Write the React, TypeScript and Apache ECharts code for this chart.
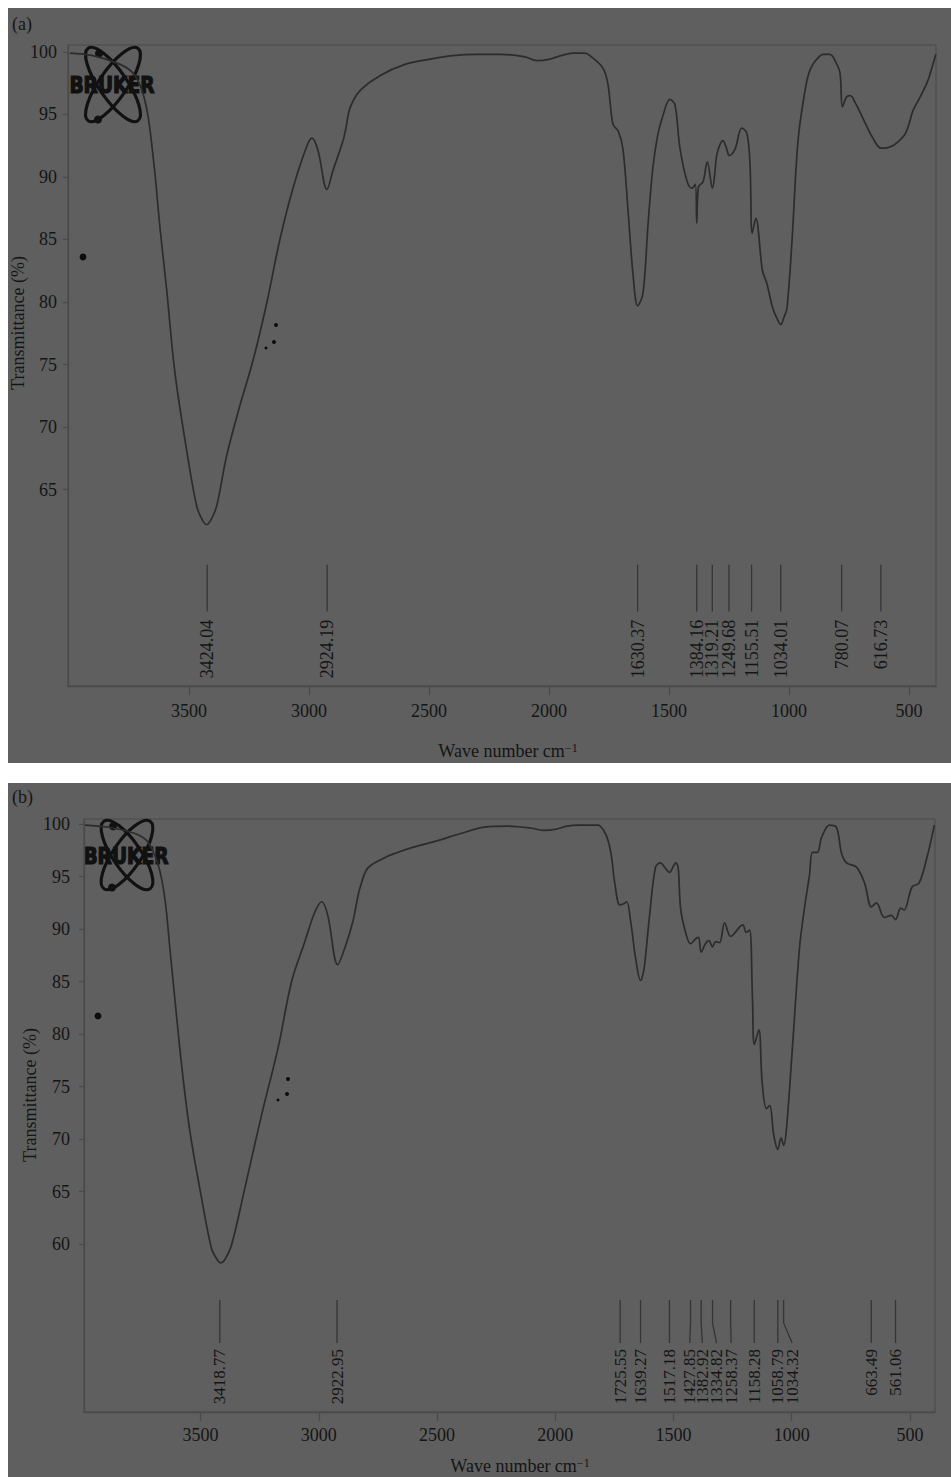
import React, { useEffect, useRef } from "react";
import * as echarts from "echarts";

// ---------- data ----------
// Panel (a): wavenumber (cm-1) and transmittance (%)
const A_WN = [
  3996, 3900, 3787, 3733, 3697, 3670, 3642, 3621, 3593, 3558, 3510, 3468, 3445, 3426, 3405, 3383,
  3343, 3288, 3232, 3176, 3121, 3065, 3010, 2987, 2962, 2925, 2900, 2858, 2846, 2829, 2787, 2704, 2600,
  2500, 2400, 2300, 2200, 2100, 2050, 2000, 1950, 1900, 1850, 1829, 1775, 1754, 1733, 1712, 1692,
  1671, 1650, 1630, 1608, 1587, 1567, 1546, 1525, 1496, 1475, 1454, 1425, 1404, 1390, 1384, 1377,
  1358, 1340, 1319, 1300, 1287, 1275, 1262, 1248, 1225, 1196, 1175, 1162, 1153, 1138, 1110, 1092,
  1067, 1045, 1034, 1020, 1008, 987, 962, 933, 917, 900, 875, 858, 829, 805, 787, 777, 760, 745,
  720, 692, 650, 616, 600, 580, 558, 517, 500, 483, 450, 421, 400, 388,
];
const A_T = [
  99.9, 99.7, 99.0, 98.3, 97.0, 94.8, 90.3, 86.0, 81.0, 74.3, 68.2, 63.7, 62.6, 62.2, 62.7, 63.8,
  67.7, 71.7, 75.4, 79.9, 85.0, 89.2, 92.4, 93.1, 92.1, 89.0, 90.5, 92.9, 93.9, 95.5, 96.9, 98.1, 99.0,
  99.4, 99.7, 99.8, 99.8, 99.6, 99.3, 99.4, 99.7, 99.9, 99.9, 99.7, 98.7, 97.4, 94.2, 93.7, 92.3,
  87.5, 82.3, 79.7, 80.7, 86.2, 90.7, 93.4, 94.9, 96.2, 95.8, 92.3, 89.7, 89.1, 89.4, 86.3, 89.2,
  89.6, 91.2, 89.1, 91.8, 92.6, 92.9, 92.4, 91.7, 92.2, 93.9, 93.5, 91.0, 85.5, 86.7, 82.5, 81.5,
  79.5, 78.5, 78.2, 78.8, 79.5, 84.9, 92.9, 96.9, 98.3, 99.0, 99.6, 99.8, 99.8, 99.2, 98.3, 95.6,
  96.4, 96.5, 95.8, 94.7, 93.1, 92.3, 92.3, 92.4, 92.6, 93.4, 94.2, 95.3, 96.5, 97.7, 99.0, 99.8,
];

// Panel (b)
const B_WN = [
  3989, 3892, 3778, 3723, 3679, 3651, 3630, 3609, 3580, 3545, 3496, 3454, 3432, 3415, 3395, 3369,
  3313, 3242, 3172, 3115, 3059, 3017, 2987, 2962, 2920, 2890, 2856, 2839, 2826, 2793, 2721, 2679,
  2600, 2500, 2400, 2300, 2200, 2100, 2050, 2000, 1950, 1900, 1863, 1820, 1786, 1765, 1749, 1727,
  1710, 1698, 1681, 1660, 1639, 1630, 1622, 1601, 1576, 1555, 1538, 1517, 1500, 1490, 1480, 1470,
  1449, 1428, 1405, 1394, 1383, 1365, 1350, 1335, 1322, 1305, 1284, 1258, 1207, 1193, 1178, 1166,
  1158, 1139, 1125, 1107, 1093, 1076, 1059, 1045, 1034, 1022, 997, 967, 946, 925, 912, 891, 874,
  840, 811, 789, 768, 726, 692, 663, 642, 608, 579, 561, 539, 525, 491, 461, 427, 397,
];
const B_T = [
  99.9, 99.7, 99.1, 98.3, 96.1, 92.9, 88.2, 83.4, 77.0, 70.7, 64.4, 59.6, 58.6, 58.2, 58.6, 59.9,
  65.3, 72.3, 78.7, 85.0, 88.8, 91.6, 92.6, 91.3, 86.6, 88.2, 90.7, 92.6, 93.9, 95.8, 96.8, 97.2,
  97.8, 98.4, 99.1, 99.7, 99.8, 99.6, 99.4, 99.5, 99.8, 99.9, 99.9, 99.9, 99.0, 97.3, 94.5, 92.3,
  92.4, 92.6, 90.7, 87.2, 85.1, 85.6, 86.6, 91.3, 95.9, 96.3, 95.9, 95.4, 96.0, 96.3, 95.8, 92.0,
  89.7, 88.6, 89.1, 89.2, 87.8, 88.6, 88.9, 88.3, 88.8, 88.7, 90.6, 89.3, 90.4, 89.7, 89.9, 83.4,
  79.0, 80.4, 75.4, 72.9, 73.2, 70.4, 69.0, 70.1, 69.4, 71.0, 78.7, 88.2, 92.0, 95.1, 97.3, 97.3, 98.7,
  99.9, 99.7, 97.2, 96.3, 95.9, 94.4, 92.1, 92.5, 91.1, 91.3, 90.9, 92.0, 91.8, 94.0, 94.4, 96.9, 99.9,
];

// Peak annotations
const A_PEAKS = [3424.04, 2924.19, 1630.37, 1384.16, 1319.21, 1249.68, 1155.51, 1034.01, 780.07, 616.73];
const B_PEAKS = [
  3418.77, 2922.95, 1725.55, 1639.27, 1517.18, 1427.85, 1382.92, 1334.82, 1258.37, 1158.28, 1058.79,
  1034.32, 663.49, 561.06,
];
// where each (b) label sits along the axis (labels spread apart where crowded)
const B_LABEL_AT = [
  3418.77, 2922.95, 1725.55, 1639.27, 1517.18, 1431, 1378, 1318, 1256, 1158.28, 1058.79, 998,
  663.49, 561.06,
];

const X_TICKS = [3500, 3000, 2500, 2000, 1500, 1000, 500];
const A_Y_TICKS = [65, 70, 75, 80, 85, 90, 95, 100];
const B_Y_TICKS = [60, 65, 70, 75, 80, 85, 90, 95, 100];

// ---------- styles ----------
const FONT = '"Liberation Serif", "Times New Roman", serif';
const INK = "#151515";
const CURVE = "#2c2c2c";
const AXIS = "#4a4a4a";
const PANEL = "#5f5f5f";
const W = 951;
const H = 1477;

const pair = (xs: number[], ys: number[]) => xs.map((x, i) => [x, ys[i]]);
const plain = (v: number) => String(v);

function xAxis(gridIndex: number, min: number, max: number, margin: number) {
  return {
    type: "value",
    gridIndex,
    inverse: true,
    min,
    max,
    axisLine: { show: true, onZero: false, lineStyle: { color: AXIS, width: 1.4 } },
    axisTick: { show: true, length: 9, customValues: X_TICKS, lineStyle: { color: AXIS, width: 1.2 } },
    axisLabel: { customValues: X_TICKS, margin, color: INK, fontFamily: FONT, fontSize: 18, formatter: plain },
    splitLine: { show: false },
  };
}

function yAxis(gridIndex: number, min: number, max: number, ticks: number[], margin: number) {
  return {
    type: "value",
    gridIndex,
    min,
    max,
    axisLine: { show: true, onZero: false, lineStyle: { color: AXIS, width: 1.4 } },
    axisTick: { show: true, length: 5, customValues: ticks, lineStyle: { color: AXIS, width: 1.2 } },
    axisLabel: { customValues: ticks, margin, color: INK, fontFamily: FONT, fontSize: 18, formatter: plain },
    splitLine: { show: false },
  };
}

function peakSeries(
  idx: number,
  peaks: number[],
  labelAt: number[],
  cfg: { top: number; bend: number; bottom: number; text: number; size: number }
) {
  return {
    type: "custom",
    xAxisIndex: idx,
    yAxisIndex: idx,
    silent: true,
    clip: false,
    data: peaks.map((p, i) => [p, labelAt[i]]),
    renderItem: (params: any, api: any) => {
      const px = api.value(0);
      const lx = api.value(1);
      const [x0, yTop] = api.coord([px, cfg.top]);
      const [, yBend] = api.coord([px, cfg.bend]);
      const [x1, yBot] = api.coord([lx, cfg.bottom]);
      const [, yText] = api.coord([lx, cfg.text]);
      return {
        type: "group",
        children: [
          {
            type: "polyline",
            shape: { points: [[x0, yTop], [x0, yBend], [x1, yBot]] },
            style: { stroke: "#353535", lineWidth: 1.3, fill: null },
          },
          {
            type: "text",
            x: x1,
            y: yText,
            rotation: Math.PI / 2,
            style: {
              text: peaks[params.dataIndex].toFixed(2),
              fill: INK,
              fontFamily: FONT,
              fontSize: cfg.size,
              align: "right",
              verticalAlign: "middle",
            },
          },
        ],
      };
    },
  };
}

function logo(cx: number, cy: number, sy: number) {
  const ring = { stroke: "#111", lineWidth: 3.2, fill: null };
  return {
    type: "group",
    x: cx,
    y: cy,
    children: [
      { type: "ellipse", scaleY: sy, shape: { cx: 0, cy: 0, rx: 14, ry: 44 }, rotation: 0.6, style: ring },
      { type: "ellipse", scaleY: sy, shape: { cx: 0, cy: 0, rx: 14, ry: 44 }, rotation: -0.6, style: ring },
      { type: "circle", shape: { cx: -14, cy: -31 * sy, r: 4 }, style: { fill: "#111" } },
      { type: "circle", shape: { cx: -15, cy: 35 * sy, r: 4 }, style: { fill: "#111" } },
      {
        type: "text",
        x: -1,
        y: 1,
        scaleX: 0.9,
        style: {
          text: "BRUKER",
          fill: "#111",
          stroke: "#111",
          lineWidth: 1.2,
          fontFamily: '"DejaVu Sans Condensed", "DejaVu Sans", sans-serif',
          fontWeight: "bold",
          fontSize: 23,
          align: "center",
          verticalAlign: "middle",
        },
      },
    ],
  };
}

function xTitle(x: number, y: number) {
  return {
    type: "text",
    x,
    y,
    style: {
      text: "{n|Wave number cm}{s|−1}",
      align: "center",
      verticalAlign: "middle",
      rich: {
        n: { fontFamily: FONT, fontSize: 18, fill: INK, lineHeight: 18 },
        s: { fontFamily: FONT, fontSize: 12, fill: INK, verticalAlign: "top", lineHeight: 18, padding: [0, 0, 8, 0] },
      },
    },
  };
}

function yTitle(x: number, y: number) {
  return {
    type: "text",
    x,
    y,
    rotation: Math.PI / 2,
    style: {
      text: "Transmittance (%)",
      fill: INK,
      fontFamily: FONT,
      fontSize: 18,
      align: "center",
      verticalAlign: "middle",
    },
  };
}

function dot(x: number, y: number, r: number) {
  return { type: "circle", shape: { cx: x, cy: y, r }, style: { fill: "#0d0d0d" } };
}

export default function App() {
  const ref = useRef<HTMLDivElement>(null);

  useEffect(() => {
    if (!ref.current) return;
    const chart = echarts.init(ref.current, undefined, { renderer: "svg", width: W, height: H });
    chart.setOption({
      animation: false,
      backgroundColor: "transparent",
      grid: [
        { left: 68, top: 45, width: 868, height: 641, show: true, borderColor: AXIS, borderWidth: 1, backgroundColor: "transparent" },
        { left: 84, top: 819, width: 851, height: 593, show: true, borderColor: AXIS, borderWidth: 1, backgroundColor: "transparent" },
      ],
      xAxis: [xAxis(0, 387, 4004, 16), xAxis(1, 394, 3993, 14)],
      yAxis: [yAxis(0, 49.3, 100.55, A_Y_TICKS, 11), yAxis(1, 44.0, 100.48, B_Y_TICKS, 14)],
      series: [
        {
          type: "line",
          xAxisIndex: 0,
          yAxisIndex: 0,
          data: pair(A_WN, A_T),
          showSymbol: false,
          smooth: 0.35,
          silent: true,
          lineStyle: { color: CURVE, width: 1.7 },
        },
        {
          type: "line",
          xAxisIndex: 1,
          yAxisIndex: 1,
          data: pair(B_WN, B_T),
          showSymbol: false,
          smooth: 0.35,
          silent: true,
          lineStyle: { color: CURVE, width: 1.7 },
        },
        peakSeries(0, A_PEAKS, A_PEAKS, { top: 59.0, bend: 55.25, bottom: 55.25, text: 54.6, size: 18 }),
        peakSeries(1, B_PEAKS, B_LABEL_AT, { top: 54.67, bend: 52.48, bottom: 50.57, text: 50.0, size: 17 }),
      ],
      graphic: [
        { type: "text", x: 12, y: 24, style: { text: "(a)", fill: INK, fontFamily: FONT, fontSize: 18, verticalAlign: "middle" } },
        { type: "text", x: 12, y: 797, style: { text: "(b)", fill: INK, fontFamily: FONT, fontSize: 18, verticalAlign: "middle" } },
        yTitle(18, 323),
        yTitle(30, 1095),
        xTitle(508, 751),
        xTitle(520, 1466),
        logo(113, 84.5, 1),
        logo(127, 855, 0.93),
        dot(83, 257, 3.4),
        dot(276, 325, 2),
        dot(274, 342, 2),
        dot(266, 348, 1.5),
        dot(98, 1016, 3.4),
        dot(288, 1079, 2),
        dot(287, 1094, 2),
        dot(278, 1100, 1.5),
      ],
    });
    return () => chart.dispose();
  }, []);

  return (
    <div style={{ position: "absolute", left: 0, top: 0, width: W, height: H, background: "#ffffff", overflow: "hidden" }}>
      <div style={{ position: "absolute", left: 8, top: 8, width: W - 8, height: 755, background: PANEL }} />
      <div style={{ position: "absolute", left: 8, top: 783, width: W - 8, height: H - 783, background: PANEL }} />
      <div ref={ref} style={{ position: "absolute", left: 0, top: 0, width: W, height: H }} />
    </div>
  );
}
